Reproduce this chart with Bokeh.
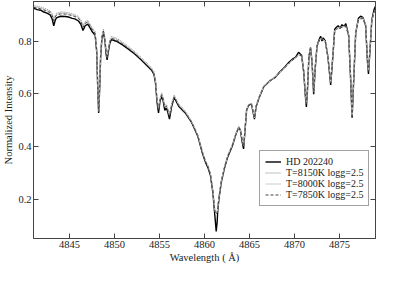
from bokeh.plotting import figure
from bokeh.models import LinearAxis, Range1d, FixedTicker, Legend, LegendItem
from bokeh.embed import file_html
from bokeh.resources import INLINE

# ---- data ----
wavelength = [
    4841.00, 4841.40, 4841.80, 4842.15, 4842.50, 4842.85, 4843.07, 4843.25, 4843.40, 4843.55,
    4844.00, 4844.55, 4845.00, 4845.30, 4845.60, 4846.00, 4846.28, 4846.50, 4846.74, 4847.02,
    4847.27, 4847.55, 4847.85, 4848.02, 4848.14, 4848.24, 4848.34, 4848.46, 4848.60, 4848.77,
    4848.94, 4849.06, 4849.18, 4849.33, 4849.48, 4849.65, 4850.20, 4850.85, 4851.55, 4852.25,
    4852.95, 4853.65, 4854.10, 4854.38, 4854.56, 4854.72, 4854.89, 4855.05, 4855.24, 4855.40,
    4855.59, 4855.76, 4855.92, 4856.11, 4856.34, 4856.63, 4857.16, 4857.86, 4858.57, 4859.26,
    4859.78, 4860.14, 4860.40, 4860.66, 4860.94, 4861.09, 4861.20, 4861.30, 4861.40, 4861.48,
    4861.64, 4861.88, 4862.24, 4862.58, 4863.10, 4863.48, 4863.81, 4864.00, 4864.17, 4864.34,
    4864.48, 4864.68, 4864.90, 4865.20, 4865.40, 4865.55, 4865.73, 4866.08, 4866.60, 4867.30,
    4867.85, 4868.36, 4868.90, 4869.41, 4869.80, 4870.11, 4870.45, 4870.80, 4871.03, 4871.21,
    4871.32, 4871.45, 4871.60, 4871.78, 4871.95, 4872.13, 4872.31, 4872.50, 4872.73, 4872.90,
    4873.05, 4873.18, 4873.42, 4873.71, 4874.02, 4874.28, 4874.47, 4874.65, 4874.86, 4875.05,
    4875.28, 4875.50, 4875.70, 4876.02, 4876.23, 4876.40, 4876.59, 4876.80, 4877.10, 4877.35,
    4877.59, 4877.90, 4878.11, 4878.22, 4878.38, 4878.59, 4878.85, 4879.00,
]

hd202240 = [
    .925, .919, .917, .910, .906, .899, .884, .858, .877, .888,
    .894, .893, .890, .886, .884, .876, .862, .840, .858, .864,
    .851, .834, .822, .760, .620, .527, .610, .740, .810, .834,
    .800, .752, .728, .762, .792, .805, .799, .786, .769, .751,
    .729, .705, .690, .674, .640, .570, .527, .570, .592, .574,
    .537, .546, .530, .503, .550, .586, .551, .527, .491, .438,
    .373, .337, .318, .290, .222, .160, .118, .077, .110, .160,
    .210, .266, .320, .360, .402, .445, .473, .460, .420, .390,
    .450, .538, .555, .562, .530, .503, .550, .586, .627, .650,
    .662, .682, .700, .720, .732, .738, .757, .745, .680, .590,
    .550, .620, .740, .775, .720, .598, .700, .780, .805, .818,
    .800, .812, .800, .740, .633, .750, .845, .852, .858, .848,
    .862, .855, .866, .820, .660, .509, .660, .830, .886, .894,
    .890, .860, .720, .675, .760, .880, .920, .932,
]

t8150 = [
    .935, .932, .929, .925, .920, .915, .904, .884, .897, .905,
    .910, .909, .906, .903, .900, .893, .879, .859, .874, .879,
    .865, .849, .836, .772, .632, .537, .619, .752, .822, .845,
    .812, .767, .742, .775, .804, .817, .811, .797, .779, .760,
    .738, .714, .699, .684, .652, .585, .547, .582, .603, .587,
    .555, .560, .545, .522, .562, .595, .560, .535,
    .496, .444, .380, .344, .326, .298, .232, .176, .152, .146, .152, .172,
    .218, .272, .326, .366, .408,
    .448, .474, .464, .430, .402, .457, .542, .558, .564, .535,
    .510, .554, .588, .629, .650, .664, .682, .700, .718, .729,
    .737, .750, .744, .687, .600, .562, .627, .742, .772, .724,
    .607, .704, .780, .802, .810, .808, .807, .800, .744, .642,
    .754, .840, .847, .850, .852, .854, .856, .857, .824, .670,
    .517, .667, .830, .882, .886, .888, .864, .730, .687, .767,
    .877, .912, .917,
]

t8000 = [
    .931, .928, .925, .921, .916, .911, .900, .880, .893, .901,
    .906, .905, .902, .899, .896, .889, .875, .855, .870, .875,
    .861, .845, .832, .768, .628, .533, .615, .748, .818, .841,
    .808, .763, .738, .771, .800, .813, .807, .793, .775, .756,
    .734, .710, .695, .680, .648, .581, .543, .578, .599, .583,
    .551, .556, .541, .518, .558, .591, .556, .531,
    .494, .442, .378, .342, .324, .296, .230, .174, .150, .144, .150, .170,
    .216, .270, .324, .364, .406,
    .447, .473, .463, .429, .401, .456, .541, .557, .563, .534,
    .509, .553, .587, .628, .649, .663, .681, .699, .717, .728,
    .736, .749, .743, .686, .599, .561, .626, .741, .771, .723,
    .606, .703, .779, .801, .809, .807, .806, .799, .743, .641,
    .753, .839, .846, .849, .851, .853, .855, .856, .823, .669,
    .516, .666, .829, .881, .885, .887, .863, .729, .686, .766,
    .876, .911, .916,
]

t7850 = [
    .928, .925, .922, .918, .913, .908, .897, .877, .890, .898,
    .903, .902, .899, .896, .893, .886, .872, .852, .867, .872,
    .858, .842, .829, .765, .625, .530, .612, .745, .815, .838,
    .805, .760, .735, .768, .797, .810, .804, .790, .772, .753,
    .731, .707, .692, .677, .645, .578, .540, .575, .596, .580,
    .548, .553, .538, .515, .555, .588, .553, .528, .492, .440,
    .376, .340, .322, .294, .228, .172, .148, .142, .148, .168,
    .214, .268, .322, .362, .404, .446, .472, .462, .428, .400,
    .455, .540, .556, .562, .533, .508, .552, .586, .627, .648,
    .662, .680, .698, .716, .727, .735, .748, .742, .685, .598,
    .560, .625, .740, .770, .722, .605, .702, .778, .800, .808,
    .806, .805, .798, .742, .640, .752, .838, .845, .848, .850,
    .852, .854, .855, .822, .668, .515, .665, .828, .880, .884,
    .886, .862, .728, .685, .765, .875, .910, .915,
]

series_labels = ["HD 202240", "T=8150K logg=2.5", "T=8000K logg=2.5", "T=7850K logg=2.5"]
x_ticks = [4845, 4850, 4855, 4860, 4865, 4870, 4875]
y_ticks = [0.2, 0.4, 0.6, 0.8]
x_limits = (4841, 4879)
y_limits = (0.05, 0.95)

FONT = "Liberation Serif"
AX = "#444444"
TXT = "#222222"

p = figure(width=377, height=265, output_backend="svg", toolbar_location=None,
           x_range=Range1d(*x_limits), y_range=Range1d(*y_limits),
           min_border_left=0, min_border_right=2, min_border_top=1, min_border_bottom=0,
           background_fill_color="white", border_fill_color="white")
p.grid.visible = False
p.outline_line_color = AX
p.outline_line_width = 1


def style_axis(ax, ticks, show_labels=True):
    ax.ticker = FixedTicker(ticks=ticks)
    ax.major_tick_in = 5
    ax.major_tick_out = 0
    ax.minor_tick_in = 0
    ax.minor_tick_out = 0
    ax.axis_line_color = AX
    ax.major_tick_line_color = AX
    ax.major_label_text_font = FONT
    ax.major_label_text_color = TXT
    ax.axis_label_text_font = FONT
    ax.axis_label_text_font_style = "normal"
    ax.axis_label_text_color = TXT
    ax.axis_label_text_font_size = "10.5px"
    if show_labels:
        ax.major_label_text_font_size = "10.5px"
        ax.major_label_standoff = 2
        ax.axis_label_standoff = 1
    else:
        ax.major_label_text_font_size = "0px"
        ax.major_label_standoff = 0


style_axis(p.xaxis[0], x_ticks)
style_axis(p.yaxis[0], y_ticks)
p.xaxis[0].axis_label = "Wavelength ( Å)"
p.yaxis[0].axis_label = "Normalized Intensity"

top = LinearAxis()
style_axis(top, x_ticks, show_labels=False)
p.add_layout(top, "above")
right = LinearAxis()
style_axis(right, y_ticks, show_labels=False)
p.add_layout(right, "right")

r_obs = p.line(wavelength, hd202240, line_color="black", line_width=1.4)
r_8150 = p.line(wavelength, t8150, line_color="#808080", line_width=1, line_dash="1 1")
r_8000 = p.line(wavelength, t8000, line_color="#cccccc", line_width=1)
r_7850 = p.line(wavelength, t7850, line_color="#444444", line_width=1, line_dash="3 2")

legend = Legend(items=[LegendItem(label=series_labels[0], renderers=[r_obs]),
                       LegendItem(label=series_labels[1], renderers=[r_8150]),
                       LegendItem(label=series_labels[2], renderers=[r_8000]),
                       LegendItem(label=series_labels[3], renderers=[r_7850])],
                location=(226, 32))
legend.margin = 0
legend.padding = 5
legend.spacing = 0
legend.glyph_width = 16
legend.glyph_height = 11
legend.label_height = 11
legend.label_standoff = 5
legend.label_text_font = FONT
legend.label_text_font_size = "10px"
legend.label_text_color = TXT
legend.border_line_color = AX
legend.border_line_width = 1
legend.background_fill_alpha = 1
p.add_layout(legend, "center")

open("out.html", "w").write(file_html(p, INLINE))
